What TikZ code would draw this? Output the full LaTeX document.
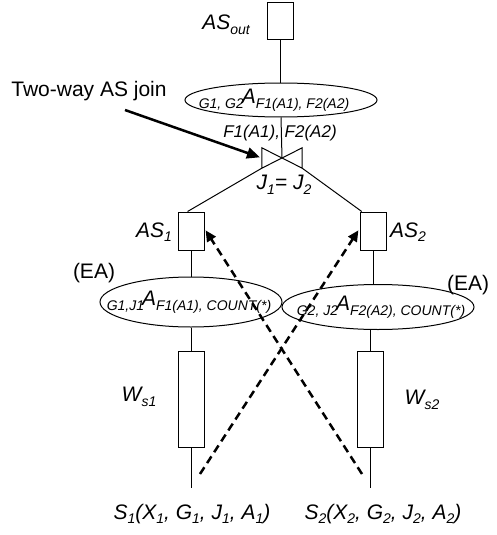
\documentclass[tikz,border=0pt]{standalone}
\usepackage{fontspec}
\setmainfont{Liberation Sans}
\usetikzlibrary{arrows.meta,shapes.geometric}
\newcommand{\lsub}[1]{\raisebox{-0.22em}{\fontsize{14}{14}\selectfont #1}}
\newcommand{\aggr}[2]{\raisebox{-5pt}{\fontsize{14}{14}\selectfont #1}\kern-2pt{\fontsize{21}{21}\selectfont A}\raisebox{-5pt}{\fontsize{14}{14}\selectfont #2}}

\begin{document}
\begin{tikzpicture}[x=1pt,y=-1pt,
    opbox/.style={draw,line width=1pt,inner sep=0pt,minimum width=26pt},
    aggell/.style={draw,ellipse,line width=1pt,inner sep=0pt},
    lbl/.style={font=\fontsize{21}{21}\selectfont\itshape,inner sep=0pt},
    agglbl/.style={font=\itshape,inner sep=0pt},
    flow/.style={line width=1pt},
    probe/.style={line width=2.5pt,dash pattern=on 8pt off 5pt,-{Triangle[length=11pt,width=10pt]},shorten >=2pt}]
    \useasboundingbox (0,0) rectangle (496,535);
    % operators
    \node[opbox,minimum height=37pt] (asout) at (280,21) {};
    \node[aggell,minimum width=192pt,minimum height=34pt] (aggtop) at (281,100) {};
    \node[agglbl] (aggtoptxt) at (274,100) {\aggr{G1, G2}{F1(A1), F2(A2)}};
    \node[minimum width=40pt,minimum height=20pt,inner sep=0pt] (join) at (282,158) {};
    \draw[flow] (join.north west) -- (join.south east) -- (join.north east) -- (join.south west) -- cycle;
    \node[opbox,minimum height=38pt] (as1) at (191,231) {};
    \node[opbox,minimum height=38pt] (as2) at (373,231) {};
    \node[aggell,minimum width=182pt,minimum height=50pt] (agg1) at (191,302) {};
    \node[agglbl] (agg1txt) at (189,302) {\aggr{G1,J1}{F1(A1), COUNT(*)}};
    \node[aggell,minimum width=192pt,minimum height=45pt] (agg2) at (378,307) {};
    \node[agglbl] (agg2txt) at (381,307) {\aggr{G2, J2}{F2(A2), COUNT(*)}};
    \node[opbox,minimum height=96pt] (w1) at (191,399) {};
    \node[opbox,minimum height=96pt] (w2) at (370,399) {};
    \coordinate (src1) at (191,488);
    \coordinate (src2) at (370,488);
    % plan edges
    \draw[flow] (asout.south) -- (asout |- aggtop.north);
    \draw[flow] (aggtop.south) -- (join.center);
    \draw[flow] (join.south west) -- (as1.100);
    \draw[flow] (join.south east) -- (as2.120);
    \draw[flow] (as1.south) -- (agg1.north);
    \draw[flow] (agg1.south) -- (w1.north);
    \draw[flow] (w1.south) -- (src1);
    \draw[flow] (as2.south) -- (as2 |- agg2.north);
    \draw[flow] (agg2.south -| w2) -- (w2.north);
    \draw[flow] (w2.south) -- (src2);
    % labels
    \node[lbl] (asoutlbl) at (226,25) {AS\lsub{out}};
    \node[font=\fontsize{17}{17}\selectfont\itshape,inner sep=0pt] (joinattr) at (280,133) {F1(A1), F2(A2)};
    \node[lbl] (joinpred) at (284,185) {J\lsub{1}= J\lsub{2}};
    \node[lbl] (as1lbl) at (154,232) {AS\lsub{1}};
    \node[lbl,anchor=west] (as2lbl) at (390,232) {AS\lsub{2}};
    \node[font=\fontsize{21}{21}\selectfont,inner sep=0pt] (ea1) at (94,273) {(EA)};
    \node[font=\fontsize{21}{21}\selectfont,inner sep=0pt] (ea2) at (468,285) {(EA)};
    \node[lbl] (ws1) at (139,397) {W\lsub{s1}};
    \node[lbl] (ws2) at (422,400) {W\lsub{s2}};
    \node[lbl] (s1lbl) at (192,514) {S\lsub{1}(X\lsub{1}, G\lsub{1}, J\lsub{1}, A\lsub{1})};
    \node[lbl] (s2lbl) at (383,514) {S\lsub{2}(X\lsub{2}, G\lsub{2}, J\lsub{2}, A\lsub{2})};
    \node[font=\fontsize{21}{21}\selectfont,inner sep=0pt] (joinnote) at (89,91) {Two-way AS join};
    \coordinate (notetail) at (125,110);
    \draw[line width=2.5pt,-{Triangle[length=13pt,width=11pt]},shorten >=2pt] (notetail) -- (join.west);
    % dashed probes
    \coordinate (d1) at (200,474);
    \coordinate (d2) at (362,474);
    \draw[probe] (d1) -- (as2.170);
    \draw[probe] (d2) -- (as1.10);
\end{tikzpicture}
\end{document}
